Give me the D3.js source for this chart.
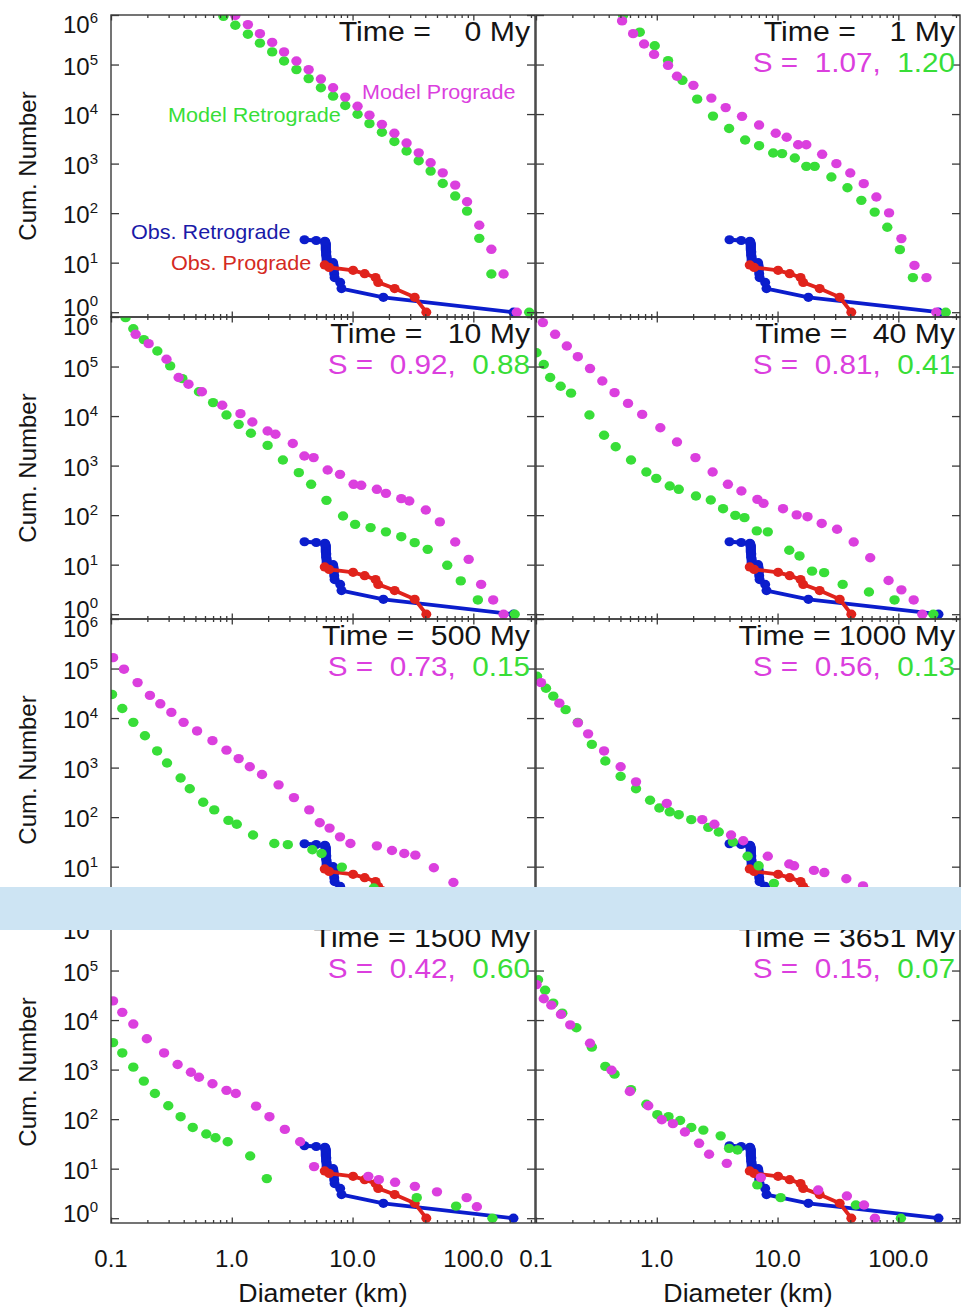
<!DOCTYPE html>
<html><head><meta charset="utf-8">
<script src="https://cdn.jsdelivr.net/npm/d3@7"></script>
<style>
body{margin:0;background:#fff}
svg{display:block}
text{font-family:"Liberation Sans",Arial,Helvetica,sans-serif}
</style>
</head><body>
<svg id="c" width="961" height="1307"></svg>
<script>
// ---------- DATA ----------
const times = [0, 1, 10, 40, 500, 1000, 1500, 3651];
const sPro = [null, 1.07, 0.92, 0.81, 0.73, 0.56, 0.42, 0.15];
const sRetro = [null, 1.20, 0.88, 0.41, 0.15, 0.13, 0.60, 0.07];

// observed cumulative curves: diameter (km) of the N-th largest body, N = 1,2,3...
const obsRetroD = [215, 18, 8.1, 7.9, 7.1, 7.05, 7.0, 7.0, 6.95, 6.9, 6.1, 6.1, 6.1, 6.05, 6.05, 6.05, 6.05, 6.0, 6.0, 6.0, 6.0, 6.0, 6.0, 6.0, 5.95, 5.95, 5.9, 5.0, 4.0];
const obsProD = [40.8, 32.7, 22.3, 16.3, 15.5, 12.6, 10.1, 6.4, 5.88];

// model cumulative curves [diameter km, cumulative number]
const pro0 = [[1.07,9.8e5],[1.36,6.4e5],[1.71,4.2e5],[2.16,2.8e5],[2.71,1.8e5],[3.43,1.18e5],[4.33,7.9e4],[5.47,5.1e4],[6.9,3.4e4],[8.7,2.2e4],[11,1.44e4],[13.8,9.5e3],[17.5,6.2e3],[22.2,4.1e3],[28,2.6e3],[35.3,1.65e3],[44.3,1.04e3],[55.8,650],[70.8,368],[88.7,170],[112,57],[141,18.6],[178,5.9],[229,1]];
const ret0 = [[0.853,9.4e5],[1.07,6.2e5],[1.36,4.1e5],[1.71,2.7e5],[2.16,1.8e5],[2.71,1.18e5],[3.43,7.9e4],[4.33,5.2e4],[5.47,3.4e4],[6.9,2.3e4],[8.7,1.49e4],[11,9.9e3],[13.8,6.4e3],[17.5,4.3e3],[22.2,2.8e3],[28,1.8e3],[35.3,1.14e3],[44.3,705],[55.8,397],[70.8,221],[88.7,110],[112,31],[141,5.9],[290,1]];

const pro1 = [[0.516,7.6e5],[0.637,4.2e5],[0.785,2.6e5],[0.95,1.6e5],[1.24,9.6e4],[1.47,5.8e4],[2.01,3.8e4],[2.83,2.1e4],[3.72,1.35e4],[5.08,9e3],[7.03,6e3],[9.66,4.1e3],[11.9,3.4e3],[14.8,2.4e3],[17.3,2.4e3],[23.4,1.54e3],[30.7,997],[40,646],[51.7,394],[65.8,212],[83.8,101],[106,30.6],[136,8.8],[171,5],[206,1]];
const ret1 = [[0.526,9.9e5],[0.723,4.5e5],[0.962,2.4e5],[1.24,1.2e5],[1.63,4.8e4],[2.16,2e4],[2.92,9.1e3],[3.97,5.1e3],[5.39,3e3],[7.03,2.3e3],[9.2,1.64e3],[10.9,1.59e3],[13.9,1.3e3],[17.3,881],[20.3,881],[27.9,536],[37.9,326],[49.4,181],[63.7,105],[81,52],[103,18.3],[132,5],[247,1]];

const pro10 = [[0.160,4.47e5],[0.205,2.9e5],[0.288,1.4e5],[0.363,6e4],[0.438,4.4e4],[0.566,3.1e4],[0.834,1.65e4],[1.18,1.12e4],[1.48,7.6e3],[1.98,5e3],[2.3,4.3e3],[3.2,2.8e3],[3.99,1.56e3],[4.76,1.45e3],[6.22,815],[7.87,666],[10.2,419],[11.8,400],[15.9,332],[18.9,275],[25.3,215],[29.5,193],[40.4,127],[52.8,73],[70.8,28.7],[91.5,12.8],[116,4.0],[146,1.94],[178,1]];
const ret10 = [[0.132,9.7e5],[0.153,5.8e5],[0.187,3.5e5],[0.242,2.06e5],[0.309,1.03e5],[0.39,5.7e4],[0.535,3.1e4],[0.7,1.87e4],[0.904,1.05e4],[1.14,6.8e3],[1.44,4.5e3],[1.98,2.56e3],[2.65,1.3e3],[3.59,720],[4.54,419],[6.08,199],[8.34,96],[10.5,65],[14.1,56],[18.9,46],[25.3,36.7],[32.7,27.8],[41.9,20.4],[60.8,9.7],[78.7,4.7],[109,1.94],[220,1]];

const pro40 = [[0.114,7.7e5],[0.144,4.47e5],[0.18,2.6e5],[0.222,1.58e5],[0.28,9.1e4],[0.354,5.1e4],[0.447,2.97e4],[0.578,1.8e4],[0.757,1.08e4],[1.07,5.8e3],[1.47,3e3],[2.09,1.45e3],[2.9,743],[3.88,419],[5.02,307],[6.81,208],[7.65,173],[11.1,135],[14.4,101],[17.7,93],[23.2,68],[31.1,52],[42.7,28.7],[58.5,13.8],[83,4.8],[106,3.1],[134,1.94],[158,1]];
const ret40 = [[0.101,1.9e5],[0.116,1.1e5],[0.131,6e4],[0.16,4e4],[0.195,2.9e4],[0.277,1.05e4],[0.366,4.1e3],[0.457,2.4e3],[0.612,1.3e3],[0.82,743],[0.99,553],[1.28,387],[1.52,332],[2.11,243],[2.8,202],[3.54,135],[4.47,99],[5.32,89],[6.73,48],[8.3,46],[12.5,19.5],[15.2,15],[19.3,7.4],[24.3,6.9],[34.6,4],[57.1,2.8],[93,1.94],[195,1]];

const pro500 = [[0.104,1.66e5],[0.128,9.7e4],[0.166,5.2e4],[0.21,2.87e4],[0.256,1.94e4],[0.316,1.3e4],[0.399,8.2e3],[0.516,5.5e3],[0.692,3.5e3],[0.904,2.25e3],[1.14,1.52e3],[1.41,1.04e3],[1.78,726],[2.44,448],[3.27,248],[4.38,140],[5.35,77],[6.45,60],[7.87,40],[9.6,29.3],[15.9,26.3],[21.2,21.2],[26.8,18.4],[33.1,17.1],[47.1,9.5],[68.4,4.8]];
const ret500 = [[0.102,3e4],[0.124,1.56e4],[0.153,8.2e3],[0.191,4.4e3],[0.241,2.17e3],[0.291,1.24e3],[0.377,618],[0.449,374],[0.58,200],[0.716,140],[0.938,86],[1.1,72],[1.5,43.5],[2.25,29.3],[2.91,27.8],[4.65,22],[5.54,18.4],[8.15,9.8],[15,3.7]];

const pro1000 = [[0.11,5.2e4],[0.156,2e4],[0.222,8e3],[0.27,4.8e3],[0.366,2.17e3],[0.502,1.04e3],[0.673,516],[1.21,189],[2.38,89],[3.0,72],[4.12,43.5],[5.2,33.3],[8.3,16.2],[12.5,11.3],[13.7,10.4],[20,8.4],[24.4,7.6],[37.1,5.7],[51,4.1]];
const ret1000 = [[0.102,7e4],[0.121,4e4],[0.139,2.77e4],[0.176,1.48e4],[0.222,8.2e3],[0.29,2.94e3],[0.375,1.36e3],[0.502,664],[0.673,374],[0.88,219],[1.05,153],[1.28,128],[1.52,112],[1.93,89],[2.67,62],[3.26,50],[4.27,31.5],[5.65,16.2],[6.97,10.4],[9.33,4.6]];

const pro1500 = [[0.104,2.44e4],[0.124,1.43e4],[0.153,8.3e3],[0.198,4.2e3],[0.275,2.17e3],[0.356,1.27e3],[0.459,885],[0.535,701],[0.692,517],[0.904,381],[1.08,330],[1.59,183],[2.05,112],[2.75,62],[3.68,35],[4.8,11],[13.5,7],[16.5,6],[22.5,5.3],[32.8,4.4],[50,3.4],[88,2.6],[107,1.7]];
const ret1500 = [[0.104,3.5e3],[0.124,2.17e3],[0.153,1.12e3],[0.187,586],[0.231,330],[0.298,186],[0.377,112],[0.475,68],[0.615,50],[0.733,42],[0.925,35],[1.42,18],[1.95,6.3],[34,2.6],[72,1.75],[144,1]];

const pro3651 = [[0.101,5.2e4],[0.116,2.7e4],[0.134,2e4],[0.161,1.3e4],[0.192,8e3],[0.28,3.4e3],[0.422,968],[0.598,361],[0.85,186],[1.1,97],[1.36,81],[1.71,55],[2.24,32.5],[2.71,19.5],[3.8,12.8],[7.27,6.6],[21.7,3.7],[37.5,2.8],[52,1.85],[64,1]];
const ret3651 = [[0.104,6.5e4],[0.119,4e4],[0.139,2.2e4],[0.165,1.38e4],[0.216,7e3],[0.29,2.84e3],[0.375,1.16e3],[0.447,809],[0.612,395],[0.82,200],[1.01,123],[1.25,112],[1.56,94],[1.93,68],[2.43,60],[3.38,46],[3.97,25.7],[4.66,23.8],[6.8,4.7],[10.6,2.6],[44.5,1.85],[105,1]];

const proSeries = [pro0, pro1, pro10, pro40, pro500, pro1000, pro1500, pro3651];
const retSeries = [ret0, ret1, ret10, ret40, ret500, ret1000, ret1500, ret3651];

const xMajor = [0.1, 1, 10, 100];
const xMinor = [0.2,0.3,0.4,0.5,0.6,0.7,0.8,0.9,2,3,4,5,6,7,8,9,20,30,40,50,60,70,80,90,200,300];
const xTickLabels = ["0.1", "1.0", "10.0", "100.0"];
const yMajor = [1, 10, 100, 1e3, 1e4, 1e5, 1e6];
const yExp = ["0","1","2","3","4","5","6"];

// ---------- STYLE / LAYOUT ----------
const W = 961, H = 1307;
const colX = [111, 536], panelW = 424;
const rowY = [15, 317, 619, 921], panelH = 302;
const MAG = "#db3fde", GRN = "#38de38", BLU = "#0b1dcc", RED = "#e0231c";
const FRAME = "#3a3a3a";
const TXT = "#141414";

const svg = d3.select("#c");
svg.append("rect").attr("width", W).attr("height", H).attr("fill", "#fff");
const defs = svg.append("defs");

// stretched text helper (reference glyphs are slightly wider than the font)
function stext(parent, x, y, size, sx, anchor, str, fill) {
  return parent.append("text")
    .attr("transform", `translate(${x},${y}) scale(${sx},1)`)
    .attr("font-size", size).attr("text-anchor", anchor)
    .attr("fill", fill).style("white-space", "pre").text(str);
}

const obsRetro = obsRetroD.map((d, i) => [d, i + 1]);
const obsPro = obsProD.map((d, i) => [d, i + 1]);

times.forEach((t, i) => {
  const col = i % 2, row = Math.floor(i / 2);
  const x0 = colX[col], y0 = rowY[row];
  const x = d3.scaleLog().domain([0.1, 324]).range([x0, x0 + panelW]);
  const y = d3.scaleLog().domain([0.8, 1e6]).range([y0 + panelH, y0]);
  const g = svg.append("g");

  defs.append("clipPath").attr("id", "clip" + i)
    .append("rect").attr("x", x0).attr("y", y0).attr("width", panelW).attr("height", panelH);
  const plot = g.append("g").attr("clip-path", `url(#clip${i})`);

  // observed lines
  const line = d3.line().x(d => x(d[0])).y(d => y(d[1]));
  [[obsRetro, BLU], [obsPro, RED]].forEach(([data, c]) => {
    plot.append("path").datum(data).attr("d", line).attr("fill", "none")
      .attr("stroke", c).attr("stroke-width", 3.8).attr("stroke-linejoin", "round");
    plot.selectAll(null).data(data).join("ellipse")
      .attr("cx", d => x(d[0])).attr("cy", d => y(d[1]))
      .attr("rx", 5.0).attr("ry", 4.6).attr("fill", c);
  });

  // model dots
  [[retSeries[i], GRN], [proSeries[i], MAG]].forEach(([data, c]) => {
    plot.selectAll(null).data(data).join("ellipse")
      .attr("cx", d => x(d[0])).attr("cy", d => y(d[1]))
      .attr("rx", 5.2).attr("ry", 4.7).attr("fill", c);
  });

  // axes (ticks inward on all four sides)
  const axStyle = sel => { sel.select(".domain").remove(); sel.selectAll("line").attr("stroke", FRAME).attr("stroke-width", 1.3); };
  g.append("g").attr("transform", `translate(0,${y0 + panelH})`)
    .call(d3.axisBottom(x).tickValues(xMinor).tickSize(-3).tickFormat("")).call(axStyle);
  g.append("g").attr("transform", `translate(0,${y0 + panelH})`)
    .call(d3.axisBottom(x).tickValues(xMajor).tickSize(-5.5).tickFormat("")).call(axStyle);
  g.append("g").attr("transform", `translate(0,${y0})`)
    .call(d3.axisTop(x).tickValues(xMinor).tickSize(-3).tickFormat("")).call(axStyle);
  g.append("g").attr("transform", `translate(0,${y0})`)
    .call(d3.axisTop(x).tickValues(xMajor).tickSize(-5.5).tickFormat("")).call(axStyle);
  g.append("g").attr("transform", `translate(${x0},0)`)
    .call(d3.axisLeft(y).tickValues(yMajor).tickSize(-8).tickFormat("")).call(axStyle);
  g.append("g").attr("transform", `translate(${x0 + panelW},0)`)
    .call(d3.axisRight(y).tickValues(yMajor).tickSize(-8).tickFormat("")).call(axStyle);

  g.append("rect").attr("x", x0).attr("y", y0).attr("width", panelW).attr("height", panelH)
    .attr("fill", "none").attr("stroke", FRAME).attr("stroke-width", 1.4);

  // y tick labels (left column only); end labels are nudged inward like the original
  if (col === 0) {
    yMajor.forEach((v, k) => {
      const off = k === 0 ? 4 : (k === yMajor.length - 1 ? 18 : 10);
      const tx = g.append("text").attr("x", 98).attr("y", y(v) + off)
        .attr("text-anchor", "end").attr("font-size", 24).attr("fill", TXT);
      tx.append("tspan").text("10");
      tx.append("tspan").attr("font-size", 15).attr("dy", -10).text(yExp[k]);
    });
    g.append("text").attr("transform", `translate(36,${y0 + panelH / 2}) rotate(-90)`)
      .attr("text-anchor", "middle").attr("font-size", 24).attr("fill", TXT).text("Cum. Number");
  }
  // x tick labels (bottom row only)
  if (row === 3) {
    xMajor.forEach((v, k) => {
      g.append("text").attr("x", x(v)).attr("y", y0 + panelH + 44)
        .attr("text-anchor", "middle").attr("font-size", 24).attr("fill", TXT).text(xTickLabels[k]);
    });
    stext(g, x0 + panelW / 2, y0 + panelH + 79, 25, 1.07, "middle", "Diameter (km)", TXT);
  }

  // time label
  const tStr = "Time = " + String(t).padStart(4, " ") + " My";
  stext(g, x0 + panelW - 5, y0 + 26, 27, 1.12, "end", tStr, TXT);
  if (sPro[i] !== null) {
    const st = stext(g, x0 + panelW - 5, y0 + 57, 27, 1.1, "end", "", TXT);
    st.append("tspan").attr("fill", MAG).text("S =  " + sPro[i].toFixed(2) + ",");
    st.append("tspan").attr("fill", GRN).text("  " + sRetro[i].toFixed(2));
  }

  // legend labels in first panel
  if (i === 0) {
    const leg = [["Model Prograde", 362, 99, MAG], ["Model Retrograde", 168, 122, GRN],
                 ["Obs. Retrograde", 131, 239, "#1a1aa8"], ["Obs. Prograde", 171, 270, "#d42a22"]];
    leg.forEach(([s, lx, ly, c]) => stext(g, lx, ly, 20, 1.08, "start", s, c));
  }
});

// light blue band across the figure
svg.append("rect").attr("x", 0).attr("y", 887).attr("width", W).attr("height", 43).attr("fill", "#cde4f3");
</script>
</body></html>
